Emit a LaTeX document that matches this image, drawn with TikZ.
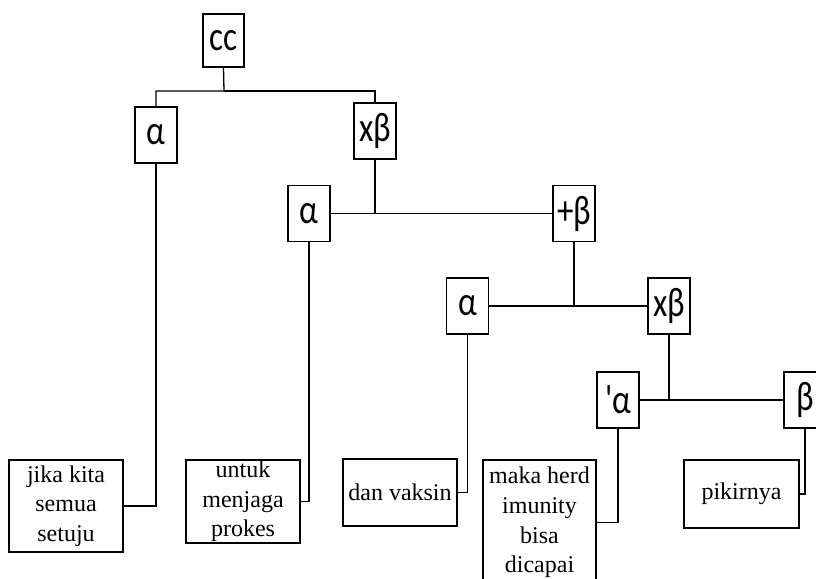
\documentclass[tikz,border=0pt]{standalone}
\usepackage{fontspec}
\setmainfont{Liberation Serif}
\newfontfamily\labfont{Carlito}
\usepackage{tikz}
\usetikzlibrary{positioning}

\newcommand{\glab}[1]{\scalebox{1}[1.25]{#1}}

\begin{document}
\begin{tikzpicture}[x=1pt,y=-1pt,
  lab/.style={draw, line width=1.2pt, inner sep=0pt, minimum width=42pt, minimum height=56pt,
    font=\labfont\fontsize{33}{33}\selectfont},
  leaf/.style={draw, line width=1.2pt, inner sep=0pt, minimum width=114pt, align=center,
    font=\fontsize{24}{29.6}\selectfont},
  link/.style={line width=1.3pt}]
\useasboundingbox (0,0) rectangle (816,578);

% label boxes
\node[lab, minimum width=41pt, minimum height=53pt] (cc) at (223.5,40.5) {\glab{cc}};
\node[lab] (a1) at (156,135) {\glab{α}};
\node[lab] (xb1) at (375,131) {\glab{xβ}};
\node[lab] (a2) at (309,213.5) {\glab{α}};
\node[lab] (pb) at (574,213.5) {\glab{+β}};
\node[lab] (a3) at (467.5,306) {\glab{α}};
\node[lab] (xb2) at (669,306) {\glab{xβ}};
\node[lab] (pa) at (618,400) {\glab{'α}};
\node[lab] (b) at (805,400) {\glab{β}};

% text boxes
\node[leaf, minimum height=92pt] (t1) at (66,506) {jika kita\\semua\\setuju};
\node[leaf, minimum height=83pt] (t2) at (243,501.5) {untuk\\menjaga\\prokes};
\node[leaf, minimum height=67pt] (t3) at (400,492.5) {dan vaksin};
\node[leaf, minimum width=113pt, minimum height=125pt] (t4) at (539.5,522.5) {maka herd\\imunity\\bisa\\dicapai};
\node[leaf, minimum width=115pt, minimum height=68pt] (t5) at (741.5,494) {pikirnya};

% branches
\coordinate (j0) at (224,91);
\draw[link] (cc.south) -- (j0) -| (a1.north);
\draw[link] (j0) -| (xb1.north);
\draw[link] (xb1.south) |- (a2.east);
\draw[link] (xb1.south) |- (pb.west);
\draw[link] (pb.south) |- (a3.east);
\draw[link] (pb.south) |- (xb2.west);
\draw[link] (xb2.south) |- (pa.east);
\draw[link] (xb2.south) |- (b.west);
\foreach \g/\t in {a1/t1,a2/t2,a3/t3,pa/t4,b/t5}
  \draw[link] (\g.south) |- (\t.east);
\end{tikzpicture}
\end{document}
